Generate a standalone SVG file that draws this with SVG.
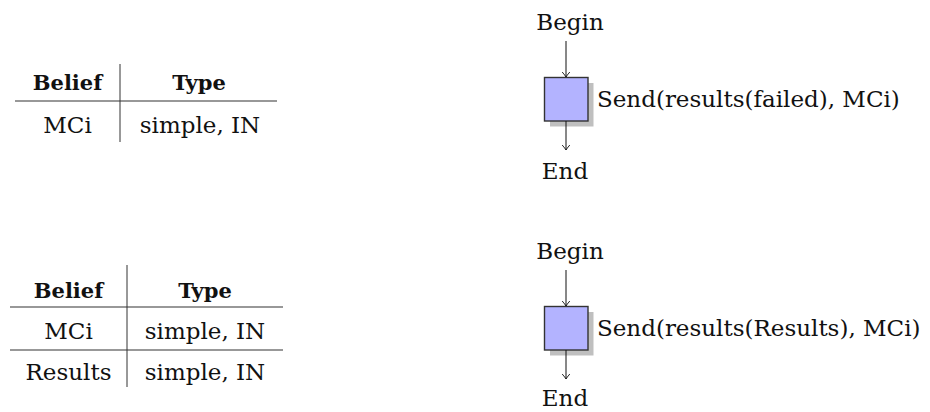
<svg xmlns="http://www.w3.org/2000/svg" width="930" height="412" viewBox="0 0 930 412">
<style>
text{font-family:"DejaVu Serif","Liberation Serif",serif;font-size:23px;fill:#111}
.h{font-weight:bold;font-size:21px}
.c{text-anchor:middle}
.rule{stroke:#333;stroke-width:1.2;fill:none}
.vr{stroke:#333;stroke-width:1;fill:none}
.edge{stroke:#111;stroke-width:1;fill:none;marker-end:url(#to)}
.box{fill:#b3b3ff;stroke:#333;stroke-width:1.4}
.shadow{fill:#bfbfbf}
</style>
<defs>
<marker id="to" viewBox="-6 -5 7 10" refX="0" refY="0" markerWidth="7" markerHeight="10" markerUnits="userSpaceOnUse" orient="auto">
<path d="M-5,-3.8 Q-1.5,-0.8 0,0 Q-1.5,0.8 -5,3.8" fill="none" stroke="#111" stroke-width="0.9"/>
</marker>
</defs>

<g id="table1">
<line class="vr" x1="120" y1="64" x2="120" y2="142"/>
<line class="rule" x1="15" y1="101" x2="277" y2="101"/>
<text class="h c" x="67.5" y="90">Belief</text>
<text class="h c" x="199" y="90">Type</text>
<text class="c" x="67.5" y="133">MCi</text>
<text class="c" x="200" y="133">simple, IN</text>
</g>

<g id="table2">
<line class="vr" x1="127" y1="265" x2="127" y2="387"/>
<line class="rule" x1="10" y1="307" x2="283" y2="307"/>
<line class="rule" x1="10" y1="350" x2="283" y2="350"/>
<text class="h c" x="68.5" y="298">Belief</text>
<text class="h c" x="205" y="298">Type</text>
<text class="c" x="68.5" y="339">MCi</text>
<text class="c" x="205" y="339">simple, IN</text>
<text class="c" x="68.5" y="380">Results</text>
<text class="c" x="205" y="380">simple, IN</text>
</g>

<g id="begin1"><text class="c" x="570" y="30">Begin</text></g>
<g id="act1">
<rect class="shadow" x="550" y="83" width="43.5" height="43.5"/>
<rect class="box" x="544.5" y="77.5" width="43.5" height="43.5"/>
<text x="597" y="107">Send(results(failed), MCi)</text>
</g>
<g id="end1"><text class="c" x="565" y="179">End</text></g>

<g id="begin2"><text class="c" x="570" y="259">Begin</text></g>
<g id="act2">
<rect class="shadow" x="550" y="312" width="43.5" height="43.5"/>
<rect class="box" x="544.5" y="306.5" width="43.5" height="43.5"/>
<text x="597" y="336">Send(results(Results), MCi)</text>
</g>
<g id="end2"><text class="c" x="565" y="406">End</text></g>

<g id="connectors">
<line class="edge" x1="566" y1="41" x2="566" y2="77"/>
<line class="edge" x1="566" y1="121" x2="566" y2="150"/>
<line class="edge" x1="566" y1="270" x2="566" y2="306"/>
<line class="edge" x1="566" y1="350" x2="566" y2="379"/>
</g>
</svg>
